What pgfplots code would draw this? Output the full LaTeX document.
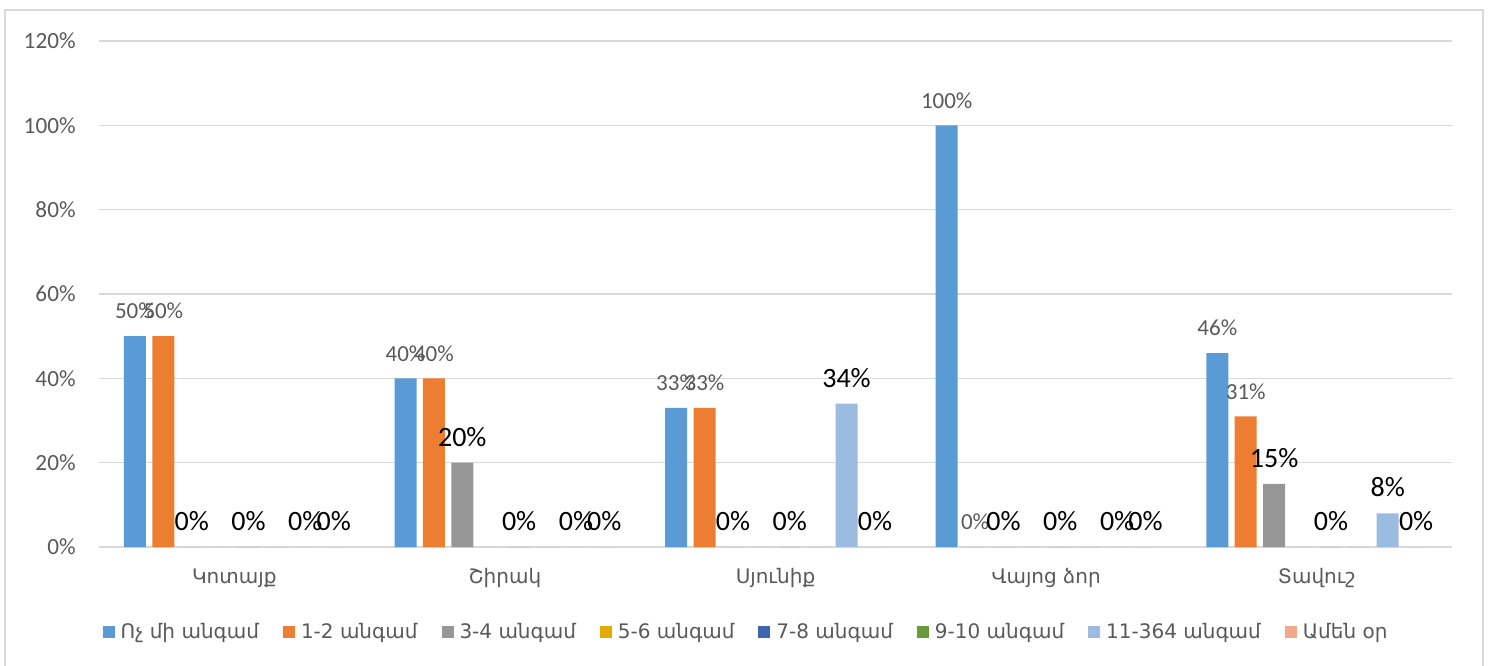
\documentclass[border=0pt]{standalone}
\usepackage{pgfplots}
\pgfplotsset{compat=1.18}
\usepackage{fontspec}
\setmainfont{Carlito}
\newfontfamily\arm{DejaVu Sans}
\definecolor{cA}{HTML}{5B9BD5}
\definecolor{cB}{HTML}{ED7D31}
\definecolor{cC}{HTML}{969696}
\definecolor{cD}{HTML}{E3AA00}
\definecolor{cE}{HTML}{3F65AE}
\definecolor{cF}{HTML}{679B3C}
\definecolor{cG}{HTML}{9BBBE1}
\definecolor{cH}{HTML}{F2A88A}
\definecolor{txt}{HTML}{595959}
\definecolor{gridc}{HTML}{D9D9D9}
\pgfplotsset{
  lblsmall/.style={nodes near coords={\pgfmathprintnumber{\pgfplotspointmeta}\%},
    every node near coord/.append style={font=\fontsize{11.5}{13}\selectfont, text=txt, anchor=center, yshift=12.5pt, inner sep=0pt}},
  lblbig/.style={nodes near coords={\pgfmathprintnumber{\pgfplotspointmeta}\%},
    every node near coord/.append style={font=\fontsize{14}{16}\selectfont, text=black, anchor=center, yshift=13pt, inner sep=0pt}},
}
\begin{document}
\begin{tikzpicture}
\useasboundingbox (0,0) rectangle (745.5pt,332.5pt);
\draw[gridc, line width=1pt] (2.5pt,-5pt) rectangle (741.5pt,327.5pt);
\begin{axis}[
  at={(49.5pt,59pt)}, anchor=south west,
  scale only axis, width=676.5pt, height=253pt,
  /pgf/number format/assume math mode=true,
  ymin=0, ymax=120, ytick={0,20,...,120},
  yticklabel={\pgfmathprintnumber{\tick}\%},
  xmin=-0.5, xmax=4.5, xtick={0,1,2,3,4},
  xticklabels={{Կոտայք},{Շիրակ},{Սյունիք},{Վայոց ձոր},{Տավուշ}},
  ybar=3.2pt, bar width=11pt,
  axis line style={draw=none},
  major tick length=0pt,
  ymajorgrids, grid style={gridc, line width=0.8pt},
  yticklabel style={font=\fontsize{11.6}{13}\selectfont, text=txt, anchor=east, inner sep=0pt, xshift=-11.5pt},
  xticklabel style={font=\arm\fontsize{10}{12}\selectfont, text=txt, anchor=center, inner sep=0pt, yshift=-15.5pt},
  clip=false,
  legend image code/.code={\fill[#1] (0pt,-3pt) rectangle (6pt,3pt);},
  legend style={at={(0.479,0)}, anchor=center, yshift=-42.5pt, draw=none, fill=none,
    font=\arm\fontsize{10}{12}\selectfont, text=txt,
    /tikz/every odd column/.append style={column sep=1pt},
    /tikz/every even column/.append style={column sep=10pt}},
  legend columns=-1,
  legend cell align=left,
]
\addplot[fill=cA, draw=none, lblsmall] coordinates {(0,50) (1,40) (2,33) (3,100) (4,46)};
\addlegendentry{Ոչ մի անգամ}
\addplot[fill=cB, draw=none, lblsmall] coordinates {(0,50) (1,40) (2,33) (3,0) (4,31)};
\addlegendentry{1-2 անգամ}
\addplot[fill=cC, draw=none, lblbig] coordinates {(0,0) (1,20) (2,0) (3,0) (4,15)};
\addlegendentry{3-4 անգամ}
\addplot[fill=cD, draw=none] coordinates {(0,0) (1,0) (2,0) (3,0) (4,0)};
\addlegendentry{5-6 անգամ}
\addplot[fill=cE, draw=none, lblbig] coordinates {(0,0) (1,0) (2,0) (3,0) (4,0)};
\addlegendentry{7-8 անգամ}
\addplot[fill=cF, draw=none] coordinates {(0,0) (1,0) (2,0) (3,0) (4,0)};
\addlegendentry{9-10 անգամ}
\addplot[fill=cG, draw=none, lblbig] coordinates {(0,0) (1,0) (2,34) (3,0) (4,8)};
\addlegendentry{11-364 անգամ}
\addplot[fill=cH, draw=none, lblbig] coordinates {(0,0) (1,0) (2,0) (3,0) (4,0)};
\addlegendentry{Ամեն օր}
\end{axis}
\end{tikzpicture}
\end{document}
